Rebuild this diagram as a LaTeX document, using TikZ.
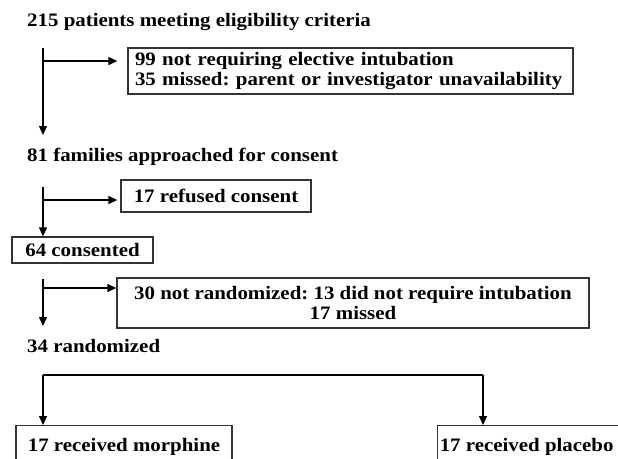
\documentclass[tikz,border=0pt]{standalone}
\usepackage{fontspec}
\setmainfont[FakeStretch=1.1]{Liberation Serif}
\usetikzlibrary{arrows.meta}
\frenchspacing
\begin{document}
\begin{tikzpicture}[x=1pt,y=-1pt,
  every node/.style={font=\fontsize{19}{19}\selectfont\bfseries, inner sep=0pt},
  boxnode/.style={draw=black!80, line width=1.3pt, align=center},
  lab/.style={anchor=base west},
  arr/.style={line width=1.2pt, -{Triangle[length=9pt,width=8pt]}},
  ln/.style={line width=1.2pt}]
\useasboundingbox (0,0) rectangle (618,458);
\clip (0,0) rectangle (618,458);
% texts
\node[lab] (t1) at (27,26) {215 patients meeting eligibility criteria};
\node[lab] (t2) at (27,161) {81 families approached for consent};
\node[lab] (t3) at (27,352) {34 randomized};
% boxes
\node[boxnode, minimum width=445pt, minimum height=46pt, align=left, text width=431pt] (box1) at (350.5,71)
  {99 not requiring elective intubation\\[1pt]35 missed: parent or investigator unavailability};
\node[boxnode, minimum width=190pt, minimum height=32pt] (ref) at (216,196) {17 refused consent};
\node[boxnode, minimum width=141pt, minimum height=26pt] (cons) at (82.5,250) {64 consented};
\node[boxnode, minimum width=472pt, minimum height=50pt] (box2) at (353,303)
  {30 not randomized: 13 did not require intubation\\[1pt]17 missed};
\node[boxnode, minimum width=216pt, minimum height=42pt, anchor=north] (morph) at (124,425) {17 received morphine};
\node[boxnode, minimum width=190pt, minimum height=42pt, anchor=north west] (plac) at (437,425) {\hspace*{-12pt}17 received placebo};
% connectors
\coordinate (v1s) at (43,48);
\coordinate (v1e) at (43,135);
\coordinate (b1) at (43,61);
\draw[arr] (v1s) -- (v1e);
\draw[arr, shorten >=10pt] (b1) -- (b1 -| box1.west);
\coordinate (v2s) at (43,187);
\coordinate (b2) at (43,200);
\draw[arr] (v2s) -- (v2s |- cons.north);
\draw[arr, shorten >=3pt] (b2) -- (b2 -| ref.west);
\coordinate (v3s) at (43,279);
\coordinate (v3e) at (43,326);
\coordinate (b3) at (43,288);
\draw[arr] (v3s) -- (v3e);
\draw[arr] (b3) -- (b3 -| box2.west);
\coordinate (hL) at (43,375);
\coordinate (hR) at (483,375);
\draw[ln] (hL) -- (hR);
\draw[arr] (hL) -- (hL |- morph.north);
\draw[arr] (hR) -- (hR |- plac.north);
\end{tikzpicture}
\end{document}
